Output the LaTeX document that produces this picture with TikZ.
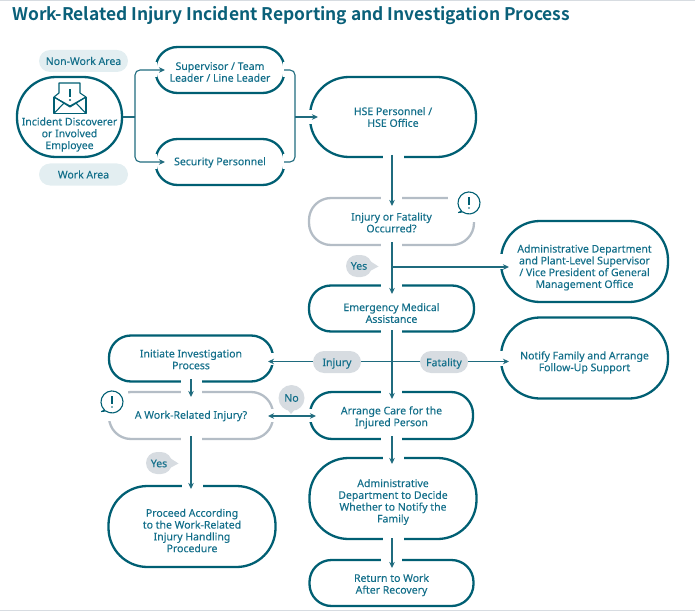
\documentclass[tikz,border=0pt]{standalone}
\usepackage{fontspec}
\setmainfont{Noto Sans}[FakeBold=0.12]
\newfontfamily\titlefont{Noto Sans CJK TC Bold}
\usetikzlibrary{arrows.meta,calc}
\definecolor{edgeteal}{HTML}{005F73}
\definecolor{lineteal}{HTML}{1F6B7E}
\definecolor{textteal}{HTML}{136F8A}
\definecolor{titleteal}{HTML}{0A6079}
\definecolor{softgray}{HTML}{B4BDC6}
\definecolor{pillgray}{HTML}{D7DCE1}
\definecolor{pillblue}{HTML}{E3EEF1}
\tikzset{
  every node/.style={font=\fontsize{10.5bp}{11.8bp}\selectfont,text=textteal,align=center,inner sep=0pt},
  procbox/.style={draw=edgeteal,line width=2.3bp,fill=white},
  flow/.style={draw=lineteal,line width=1.1bp},
  flowtip/.style={flow,-{Stealth[length=6bp,width=5.5bp,inset=1.8bp]}},
  flowboth/.style={flow,{Stealth[length=6bp,width=5.5bp,inset=1.8bp]}-{Stealth[length=6bp,width=5.5bp,inset=1.8bp]}},
  tag/.style={fill=pillgray,rounded corners=11bp,minimum height=22bp},
  areatag/.style={fill=pillblue,rounded corners=11bp,minimum height=22bp,minimum width=89bp},
  iconline/.style={draw=edgeteal,line width=1.1bp,fill=white,line join=round}
}
\newcommand{\gapH}[1]{\fill[white] ([shift={(-10.5,-3)}]#1) rectangle ([shift={(10.5,3)}]#1);}
\newcommand{\gapV}[2]{\fill[white] ([shift={(-3,-#2)}]#1) rectangle ([shift={(3,#2)}]#1);}
\newcommand{\boxtext}[3]{\node[yshift=-#2bp] (#1text) at (#1) {#3};}
\newcommand{\notice}[2]{%
  \draw[iconline] ($(#1,#2)+(-7.5,8)$) arc[start angle=227,end angle=-125,radius=11bp] -- ($(#1,#2)+(-10.5,9.5)$) -- cycle;
  \fill[edgeteal] ($(#1,#2)+(-0.6,-6)$) rectangle ($(#1,#2)+(0.6,2)$);
  \fill[edgeteal] (#1,#2+5) circle (0.8bp);}
\begin{document}
\begin{tikzpicture}[x=1bp,y=-1bp]
\useasboundingbox (0,0) rectangle (695,611);
\draw[pillgray,line width=1bp] (0,0.5) -- (695,0.5);
\draw[pillgray,line width=1bp] (0,610.5) -- (695,610.5);
\node[anchor=base west,font=\fontsize{17.4bp}{20bp}\titlefont,text=titleteal] (title) at (12,21) {Work-Related Injury Incident Reporting and Investigation Process};
% boxes
\node[procbox,rounded corners=39bp,minimum width=105bp,minimum height=80bp] (disc) at (69.5,117) {};
\node (disctext) at (69.5,134.5) {Incident Discoverer\\or Involved\\Employee};
\node[areatag] (nonwork) at (83.5,61) {Non-Work Area};
\node[areatag] (workarea) at (83.5,174.5) {Work Area};
\node[procbox,rounded corners=22bp,minimum width=129bp,minimum height=46bp] (sup) at (220,70) {};
\node[procbox,rounded corners=22bp,minimum width=129bp,minimum height=46bp] (sec) at (220,162) {};
\node[procbox,rounded corners=39bp,minimum width=166bp,minimum height=80bp] (hse) at (393,117) {};
\node[procbox,draw=softgray,rounded corners=22bp,minimum width=165bp,minimum height=47bp] (inj) at (391.5,221.5) {};
\node[procbox,rounded corners=22bp,minimum width=165bp,minimum height=46bp] (emg) at (391.5,308.5) {};
\node[procbox,rounded corners=39bp,minimum width=167bp,minimum height=81bp] (adm) at (584.5,261.5) {};
\node[procbox,rounded corners=39bp,minimum width=167bp,minimum height=81bp] (fam) at (584.5,358) {};
\node[procbox,rounded corners=22bp,minimum width=164bp,minimum height=46bp] (init) at (191,358.5) {};
\node[procbox,draw=softgray,rounded corners=22bp,minimum width=164bp,minimum height=47bp] (wri) at (191,415.5) {};
\node[procbox,rounded corners=22bp,minimum width=163bp,minimum height=47bp] (care) at (391.5,415.5) {};
\node[procbox,rounded corners=39bp,minimum width=167bp,minimum height=81bp] (dec) at (393,498.5) {};
\node[procbox,rounded corners=22bp,minimum width=164bp,minimum height=46bp] (ret) at (391.5,583) {};
\node[procbox,rounded corners=39bp,minimum width=167bp,minimum height=81bp] (proc) at (192,526.5) {};
\boxtext{sup}{2}{Supervisor / Team\\Leader / Line Leader}
\boxtext{sec}{0.5}{Security Personnel}
\boxtext{hse}{0}{HSE Personnel /\\HSE Office}
\boxtext{inj}{1}{Injury or Fatality\\Occurred?}
\boxtext{emg}{4.5}{Emergency Medical\\Assistance}
\boxtext{adm}{6}{Administrative Department\\and Plant-Level Supervisor\\/ Vice President of General\\Management Office}
\boxtext{fam}{4.5}{Notify Family and Arrange\\Follow-Up Support}
\boxtext{init}{1}{Initiate Investigation\\Process}
\boxtext{wri}{0.5}{A Work-Related Injury?}
\boxtext{care}{2}{Arrange Care for the\\Injured Person}
\boxtext{dec}{3.5}{Administrative\\Department to Decide\\Whether to Notify the\\Family}
\boxtext{ret}{2}{Return to Work\\After Recovery}
\boxtext{proc}{4}{Proceed According\\to the Work-Related\\Injury Handling\\Procedure}
% gaps in the outlines
\gapV{sup.west}{7.5}\gapV{sup.east}{7.5}
\gapV{sec.west}{7.5}\gapV{sec.east}{7.5}
\gapV{hse.west}{7}\gapV{adm.west}{7.5}\gapV{fam.west}{7.5}
\gapV{init.east}{6}\gapV{wri.east}{6.5}\gapV{care.west}{6.5}
\gapH{hse.south}\gapH{inj.north}\gapH{inj.south}\gapH{emg.north}\gapH{emg.south}
\gapH{care.north}\gapH{care.south}\gapH{dec.north}\gapH{dec.south}\gapH{ret.north}
\gapH{init.south}\gapH{wri.north}\gapH{wri.south}\gapH{proc.north}
% cut-outs for the notice icons
\fill[white] (448,194) rectangle (478,222);
\fill[white] (105,388) rectangle (128,421);
% coordinates
\coordinate (lbus) at (135,117);
\coordinate (rbus) at (295,117);
\coordinate (supin) at (165,70);
\coordinate (secin) at (165,162);
\coordinate (supout) at (284,70);
\coordinate (secout) at (284,162);
\coordinate (hsein) at (318,117);
\coordinate (admin) at (509,267);
\coordinate (faming) at (509,361.5);
\coordinate (initin) at (268,361.5);
\coordinate (wrin) at (268,416);
\coordinate (carein) at (316,416);
\coordinate (split) at (392,267);
% connectors
\draw[flow] (disc.east) -- (lbus);
\draw[flowtip,rounded corners=5bp] (lbus) -- (secin -| lbus) -- (secin);
\draw[flowtip,rounded corners=5bp] (lbus) -- (supin -| lbus) -- (supin);
\draw[flow,rounded corners=5bp] (supout) -- (supout -| rbus) -- (secout -| rbus) -- (secout);
\draw[flowtip] (rbus) -- (hsein);
\draw[flowtip] (392,155) -- (392,206);
\draw[flowtip] (392,242) -- (392,294);
\draw[flowtip] (split) -- (admin);
\draw[flowtip] (392,330) -- (392,399);
\draw[flowtip] (392,436) -- (392,464);
\draw[flowtip] (392,538) -- (392,568);
\coordinate (cross) at (392,361.5);
\draw[flowtip] (cross) -- (faming);
\draw[flowtip] (cross) -- (initin);
\draw[flowboth] (wrin) -- (carein);
\draw[flowtip] (191,379) -- (191,397);
\draw[flowtip] (191,436) -- (191,489);
% tags
\node[tag,minimum width=48bp] (injtag) at (337,362) {};
\node[tag,minimum width=48bp] (fattag) at (444,362) {};
\boxtext{injtag}{1.5}{Injury}
\boxtext{fattag}{1.5}{Fatality}
\node[tag,minimum width=26bp] (yes1) at (359,266) {};
\boxtext{yes1}{0}{Yes}
\fill[pillgray] (370,261) -- (378.5,266.5) -- (370,271) -- cycle;
\node[tag,minimum width=26bp] (yes2) at (159,463) {};
\boxtext{yes2}{0.5}{Yes}
\fill[pillgray] (170,458) -- (178.5,463.5) -- (170,468) -- cycle;
\fill[pillgray] (286,408) -- (291,414) -- (296,408) -- cycle;
\node[circle,fill=pillgray,minimum size=26bp] (notag) at (291.5,398) {No};
% notice icons
\notice{469}{203}
\notice{112}{402}
% envelope icon
\draw[iconline] (54,97) -- (54,113.5) -- (86,113.5) -- (86,97);
\draw[iconline] (54,97) -- (59,93) -- (59,83) -- (80,83) -- (80,93) -- (86,97) -- (70,106) -- cycle;
\fill[white] (59.6,84) rectangle (79.4,100);
\draw[iconline,fill=none] (54,97) -- (70,107) -- (86,97);
\draw[iconline,fill=none] (54,113.5) -- (64,103);
\draw[iconline,fill=none] (86,113.5) -- (76,103);
\fill[edgeteal] (68.8,89) rectangle (71.2,97);
\fill[edgeteal] (70,100) circle (1.2bp);
\end{tikzpicture}
\end{document}
